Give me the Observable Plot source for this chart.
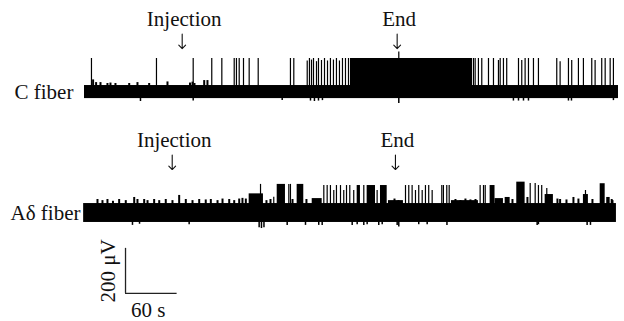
<!DOCTYPE html>
<html><head><meta charset="utf-8">
<script src="https://cdn.jsdelivr.net/npm/d3@7"></script>
<script src="https://cdn.jsdelivr.net/npm/@observablehq/plot@0.6"></script>
<style>html,body{margin:0;padding:0;background:#fff;} #chart svg{display:block}</style>
</head><body><div id="chart"></div>
<script>
// ---------- data (time in s, amplitude in µV relative to each trace's baseline) ----------
const traceNames = ["C fiber", "Aδ fiber"];
const traceOffsets = [537, 0];          // vertical stacking offset of each trace (µV)
const traceStarts = [0, -1];
const traceEnds = [621, 618.6];
const traceNoise = [29, 42];            // half-height of the baseline noise band (µV)

const eventLabels = ["Injection", "End"];
const cEventTimes = [113.6, 363.6];
const aEventTimes = [102.0, 361.6];

// C fiber
const cSpikeTimes = [8.1, 83.7, 126.4, 148.0, 159.7, 174.1, 176.7, 179.9, 184.9, 191.5, 202.0,
  239.5, 243.4,
  259.0, 261.6, 264.0, 266.3, 269.8, 272.1, 275.6, 279.1, 282.6, 286.0, 289.5, 293.0, 296.5, 300.0, 303.5, 307.0,
  365.5,
  452.3, 454.3, 458.1, 462.0, 469.8, 475.6, 481.4, 483.4, 487.2, 491.0,
  504.7, 508.5, 512.4, 516.3, 522.1, 527.9,
  549.2, 553.1, 562.8, 566.6, 574.4, 580.2, 589.9, 593.8, 601.5, 605.5, 611.3, 615.1];
const cSpikeAmps = [149, 149, 149, 149, 149, 149, 149, 149, 149, 149, 149,
  149, 149,
  138, 149, 142, 149, 135, 149, 140, 149, 138, 149, 142, 149, 138, 149, 149, 149,
  178,
  149, 149, 149, 149, 149, 149, 140, 149, 149, 149,
  149, 140, 149, 149, 149, 149,
  149, 135, 149, 140, 149, 149, 149, 140, 149, 149, 149, 149];
const cBurstStarts = [309.3];
const cBurstEnds = [451.2];
const cBurstAmps = [149];
const cBumpTimes = [10.0, 13.5, 18.6, 26.7, 30.2, 36.0, 52.0, 61.6, 75.2, 96.5, 122.7, 125.6, 127.9, 139.2, 143.0];
const cBumpAmps = [54, 42, 42, 38, 40, 38, 38, 42, 38, 45, 40, 44, 38, 51, 51];
const cDipTimes = [65.1, 126.4, 229.9, 262.8, 267.4, 272.1, 276.7, 365.5, 498.8, 504.7, 510.5, 516.3, 562.8, 566.3, 615.1];
const cDipAmps = [-42, -40, -38, -40, -42, -40, -38, -51, -40, -40, -40, -40, -40, -40, -38];

// Aδ fiber
const aSpikeTimes = [204.7, 220.1, 237.6, 239.5, 278.3, 282.2, 286.0, 289.9, 293.0, 297.7,
  301.5, 304.7, 308.5, 313.1, 324.8, 340.3, 373.3, 377.1, 381.0, 384.9,
  388.7, 392.7, 396.5, 400.3, 404.3, 415.5, 417.4, 421.3, 424.1, 460.1,
  464.0, 466.0, 518.3, 524.1, 527.9, 531.7, 537.6, 582.6];
const aSpikeAmps = [127, 70, 127, 127, 122, 122, 122, 100, 122, 122,
  100, 122, 122, 100, 122, 100, 122, 122, 122, 100,
  122, 100, 122, 122, 100, 122, 122, 122, 122, 122,
  122, 122, 131, 131, 122, 122, 109, 100];
const aBurstStarts = [191.5, 224.1, 247.3, 264.8, 317.1, 328.7, 344.2, 353.5, 426.7, 471.7, 477.4, 489.2, 502.7, 535.7, 580.2, 599.7, 607.3];
const aBurstEnds = [208.1, 233.7, 255.0, 276.4, 320.9, 338.4, 352.0, 370.9, 458.1, 477.4, 487.2, 495.0, 512.4, 545.3, 586.0, 605.5, 611.3];
const aBurstAmps = [85, 127, 127, 64, 122, 122, 122, 55, 55, 122, 64, 69, 137, 82, 82, 130, 69];
const aBumpTimes = [15.1, 20.9, 26.7, 33.1, 40.3, 48.0, 57.8, 61.6, 69.4, 73.3,
  81.0, 86.9, 94.5, 102.3, 110.1, 117.8, 125.6, 133.4, 141.0, 146.9,
  154.7, 160.5, 168.3, 174.1, 179.9, 183.7, 187.6, 553.1, 568.6, 613.1,
  211.6, 216.3, 241.9, 258.1, 360.5, 365.1, 431.4, 437.2, 443.0, 448.8,
  454.7, 497.7, 515.1, 550.0, 560.5, 574.4, 590.7, 614.0];
const aBumpAmps = [60, 55, 60, 52, 60, 55, 69, 60, 60, 55,
  60, 55, 60, 55, 78, 60, 55, 60, 58, 60,
  55, 62, 60, 55, 62, 65, 62, 60, 69, 60,
  55, 60, 60, 60, 62, 55, 60, 55, 62, 58,
  60, 60, 69, 62, 58, 62, 60, 55];
const aDipTimes = [55.8, 64.0, 121.7, 203.1, 205.8, 208.7, 235.7, 257.0, 272.4, 276.4, 311.3, 317.1, 324.8, 328.7, 342.2, 346.2, 363.6, 365.5, 388.7, 398.5, 421.5, 526.4, 527.9, 584.5, 588.4];
const aDipAmps = [-55, -50, -52, -66, -69, -66, -55, -55, -55, -55, -55, -52, -55, -52, -55, -52, -55, -62, -52, -52, -55, -55, -52, -55, -55];

// scale bar
const scaleBarTime = 47.7;   // s, left end of the bar
const scaleBarDur = 60;      // s
const scaleBarTop = -157;    // µV
const scaleBarAmp = 200;     // µV
const scaleBarLabels = ["200 μV", "60 s"];

// ---------- build ----------
const traces = [
  {name: traceNames[0], off: traceOffsets[0], start: traceStarts[0], end: traceEnds[0], noise: traceNoise[0],
   ev: cEventTimes, st: cSpikeTimes, sa: cSpikeAmps, bs: cBurstStarts, be: cBurstEnds, ba: cBurstAmps,
   ut: cBumpTimes, ua: cBumpAmps, dt: cDipTimes, da: cDipAmps, labelDx: 14},
  {name: traceNames[1], off: traceOffsets[1], start: traceStarts[1], end: traceEnds[1], noise: traceNoise[1],
   ev: aEventTimes, st: aSpikeTimes, sa: aSpikeAmps, bs: aBurstStarts, be: aBurstEnds, ba: aBurstAmps,
   ut: aBumpTimes, ua: aBumpAmps, dt: aDipTimes, da: aDipAmps, labelDx: 10}
];
const ink = "#000";
const labelRise = 323, arrowTop = 257, arrowBottom = 193;

function traceMarks(tr) {
  const o = tr.off;
  return [
    Plot.rect([tr.name], {x1: () => tr.start, x2: () => tr.end, y1: () => o - tr.noise, y2: () => o + tr.noise, fill: ink}),
    Plot.rect(tr.bs, {x1: d => d, x2: (d, i) => tr.be[i], y1: () => o, y2: (d, i) => o + tr.ba[i], fill: ink}),
    Plot.ruleX(tr.st, {x: d => d, y1: () => o, y2: (d, i) => o + tr.sa[i], stroke: ink, strokeWidth: 1.2}),
    Plot.ruleX(tr.ut, {x: d => d, y1: () => o, y2: (d, i) => o + tr.ua[i], stroke: ink, strokeWidth: 2}),
    Plot.ruleX(tr.dt, {x: d => d, y1: () => o, y2: (d, i) => o + tr.da[i], stroke: ink, strokeWidth: 1.5}),
    Plot.text(eventLabels, {x: (d, i) => tr.ev[i], y: () => o + labelRise, text: d => d, fontSize: 21, dx: 2, fill: "#111"}),
    Plot.arrow(eventLabels, {x1: (d, i) => tr.ev[i], x2: (d, i) => tr.ev[i], y1: () => o + arrowTop, y2: () => o + arrowBottom,
      stroke: "#111", strokeWidth: 1.1, headLength: 7, headAngle: 90}),
    Plot.text([tr.name], {frameAnchor: "left", y: () => o, text: d => d, fontSize: 21, dx: tr.labelDx, textAnchor: "start", fill: "#111"})
  ];
}

const chart = Plot.plot({
  width: 624, height: 321,
  marginTop: 0, marginRight: 0, marginBottom: 0, marginLeft: 0,
  style: {background: "#fff", fontFamily: "'Liberation Serif', 'Times New Roman', serif", overflow: "visible"},
  x: {domain: [0, 621], range: [84, 618], axis: null},
  y: {domain: [-481.7, 943.5], range: [321, 0], axis: null},
  marks: [
    ...traces.flatMap(traceMarks),
    Plot.ruleX([scaleBarTime], {x: d => d, y1: () => scaleBarTop, y2: () => scaleBarTop - scaleBarAmp, stroke: "#222", strokeWidth: 1.3}),
    Plot.ruleY([scaleBarTop - scaleBarAmp], {y: d => d, x1: () => scaleBarTime, x2: () => scaleBarTime + scaleBarDur, stroke: "#222", strokeWidth: 1.3}),
    Plot.text([scaleBarLabels[0]], {x: () => scaleBarTime, y: () => scaleBarTop - scaleBarAmp / 2, text: d => d, rotate: -90, dx: -17, fontSize: 21, fill: "#111"}),
    Plot.text([scaleBarLabels[1]], {x: () => scaleBarTime + scaleBarDur / 2, y: () => scaleBarTop - scaleBarAmp, text: d => d, dx: -3, dy: 17, fontSize: 21, fill: "#111"})
  ]
});
document.getElementById("chart").append(chart);
</script></body></html>
